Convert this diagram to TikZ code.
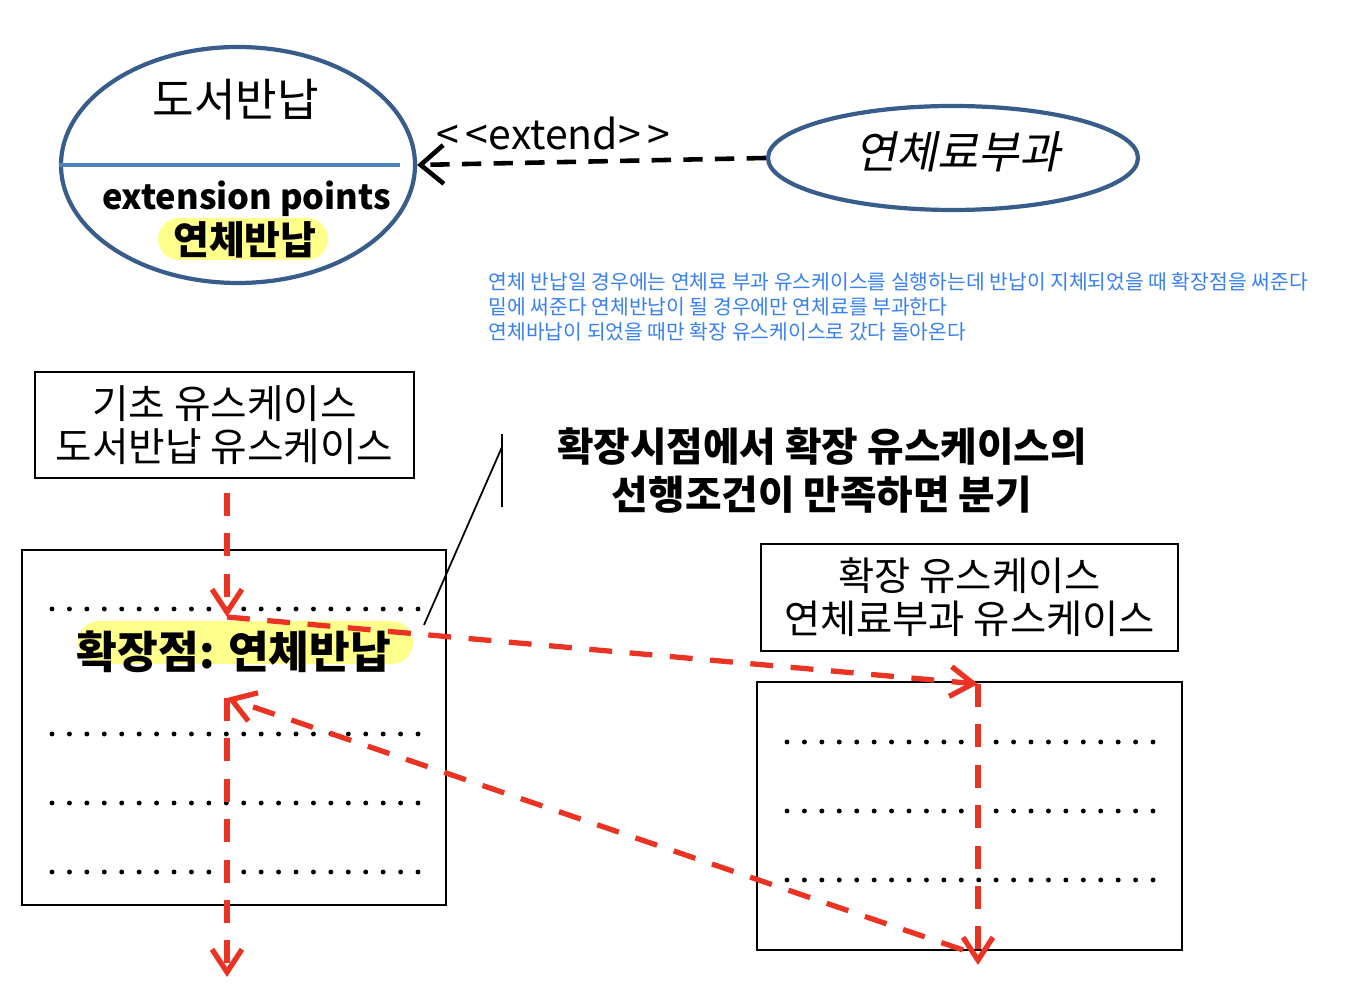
\documentclass[tikz,border=0pt]{standalone}
\usepackage{fontspec}
\usepackage{tikz}
\usetikzlibrary{shapes.geometric,arrows.meta}
\setmainfont{Noto Sans CJK KR}
\newfontfamily\krslant{Noto Sans CJK KR}[FakeSlant=0.2]
\definecolor{ucline}{RGB}{56,93,138}
\definecolor{ucsplit}{RGB}{79,129,189}
\definecolor{marker}{RGB}{255,255,140}
\definecolor{flowred}{RGB}{234,51,35}
\definecolor{noteblue}{RGB}{56,128,240}
\newcommand{\ksize}[2]{\fontsize{#1}{#2}\selectfont}

\begin{document}
\begin{tikzpicture}[x=1cm,y=-1cm,
    usecase/.style={ellipse,draw=ucline,line width=1.2pt,inner sep=0pt},
    plainbox/.style={rectangle,draw,line width=0.7pt,inner sep=0pt,align=center},
    hilite/.style={fill=marker,rounded corners=0.21cm,inner sep=0pt},
    flow/.style={draw=flowred,line width=1.5pt,dash pattern=on 6.5pt off 5pt,
      -{Straight Barb[length=6.5pt,width=8.5pt]}},
    extendarrow/.style={line width=1.3pt,dash pattern=on 5.5pt off 3.5pt,
      -{Straight Barb[length=6.5pt,width=11pt]}}]
  \useasboundingbox (0,0) rectangle (13.61,10);

  % use case diagram: base use case with extension point, extending use case
  \node[usecase,minimum width=3.54cm,minimum height=2.36cm] (doseo) at (2.38,1.65) {};
  \draw[ucsplit,line width=1.2pt] (doseo.west) -- (4.00,1.65);
  \node[font=\ksize{12.85}{15}] (doseotitle) at (2.36,1.00) {도서반납};
  \node[font=\ksize{9.8}{11}\bfseries] (extpts) at (2.465,1.99) {extension points};
  \node[hilite,minimum width=1.70cm,minimum height=0.42cm] (mark1) at (2.43,2.39) {};
  \node[font=\ksize{11.1}{13}\bfseries] (extptname) at (2.45,2.40) {연체반납};

  \node[usecase,minimum width=3.70cm,minimum height=1.04cm] (overdue) at (9.53,1.58) {};
  \node[font=\ksize{12.7}{15}\krslant] (overduetitle) at (9.58,1.52) {연체료부과};

  \draw[extendarrow] (overdue.west) -- (doseo.east);
  \node[font=\ksize{11.65}{13}] (extlabel) at (5.535,1.33) {<\,<extend>\,>};

  % note
  \node[font=\ksize{5.8}{7.1},text=noteblue,align=left,anchor=west,inner sep=0pt] (note) at (4.88,3.07)
    {연체 반납일 경우에는 연체료 부과 유스케이스를 실행하는데 반납이 지체되었을 때 확장점을 써준다\\
     밑에 써준다 연체반납이 될 경우에만 연체료를 부과한다\\
     연체바납이 되었을 때만 확장 유스케이스로 갔다 돌아온다};

  % flow: base use case and extension use case
  \node[plainbox,minimum width=3.79cm,minimum height=1.06cm,font=\ksize{11.3}{12.2}] (basetitle) at (2.245,4.25)
    {기초 유스케이스\\도서반납 유스케이스};
  \node[plainbox,minimum width=4.24cm,minimum height=3.55cm] (basebody) at (2.34,7.275) {};
  \node[plainbox,minimum width=4.17cm,minimum height=1.07cm,font=\ksize{11.2}{12.2}] (exttitle) at (9.695,5.975)
    {확장 유스케이스\\연체료부과 유스케이스};
  \node[plainbox,minimum width=4.25cm,minimum height=2.68cm] (extbody) at (9.695,8.16) {};

  % dotted rows = steps
  \foreach \y in {6.09,7.34,8.03,8.72}
    \foreach \i in {0,...,21}
      \fill (0.52+0.1743*\i,\y) circle[radius=0.7pt];
  \foreach \y in {7.42,8.11,8.80}
    \foreach \i in {0,...,21}
      \fill (7.87+0.1743*\i,\y) circle[radius=0.7pt];

  \node[hilite,minimum width=3.35cm,minimum height=0.43cm] (mark2) at (2.455,6.425) {};
  \node[font=\ksize{12.6}{14}\bfseries] (extpoint) at (2.34,6.52) {확장점: 연체반납};

  % callout
  \coordinate (calltop) at (5.02,4.34);
  \coordinate (callbot) at (5.02,5.07);
  \coordinate (callknee) at (5.02,4.47);
  \coordinate (calltip) at (4.24,6.25);
  \draw[line width=0.5pt] (calltop) -- (callbot);
  \draw[line width=0.5pt] (callknee) -- (calltip);
  \node[font=\ksize{11.3}{13.4}\bfseries,align=center] (callout) at (8.22,4.705)
    {확장시점에서 확장 유스케이스의\\선행조건이 만족하면 분기};

  % red flow arrows
  \coordinate (basestart) at (2.27,4.93);
  \coordinate (branch) at (2.27,6.17);
  \coordinate (extin) at (9.78,6.84);
  \coordinate (extout) at (9.78,9.65);
  \coordinate (extback) at (9.63,9.50);
  \coordinate (resume) at (2.27,6.98);
  \coordinate (baseend) at (2.27,9.77);
  \draw[flow] (basestart) -- (branch);
  \draw[flow] (branch) -- (extin);
  \draw[flow] (extin) -- (extout);
  \draw[flow] (extback) -- (resume);
  \draw[flow] (resume) -- (baseend);
\end{tikzpicture}
\end{document}
